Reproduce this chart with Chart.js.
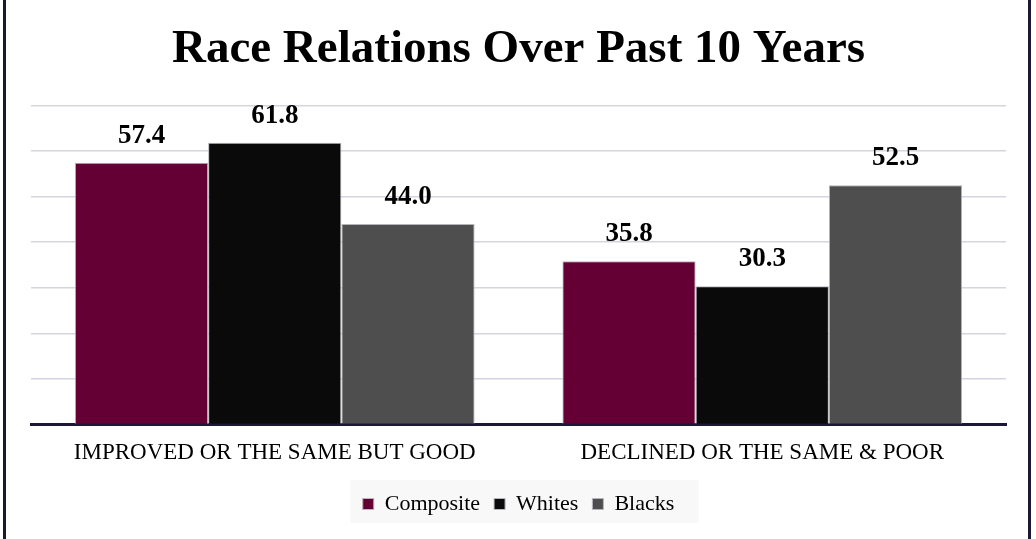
<!DOCTYPE html>
<html>
<head>
<meta charset="utf-8">
<script src="https://cdn.jsdelivr.net/npm/chart.js@4/dist/chart.umd.min.js"></script>
<style>
    html, body { margin: 0; padding: 0; background: #fff; }
    #wrap {
        position: absolute; left: 3px; top: 0; width: 1028px; height: 539px;
        border-left: 3px solid #1c1733; border-right: 3px solid #1c1733;
        box-sizing: border-box;
    }
    #chart { display: block; }
</style>
</head>
<body>
<div id="wrap"><canvas id="chart" width="1022" height="539"></canvas></div>
<script>
const categories = ['IMPROVED OR THE SAME BUT GOOD', 'DECLINED OR THE SAME & POOR'];
const composite = [57.4, 35.8];
const whites = [61.8, 30.3];
const blacks = [44.0, 52.5];

const SERIF = '"Liberation Serif", "DejaVu Serif", serif';

// подписи значений над столбцами
const valueLabels = {
    id: 'valueLabels',
    afterDatasetsDraw(chart) {
        const ctx = chart.ctx;
        ctx.save();
        ctx.font = 'bold 27px ' + SERIF;
        ctx.fillStyle = '#000';
        ctx.textAlign = 'center';
        ctx.textBaseline = 'alphabetic';
        chart.data.datasets.forEach((ds, i) => {
            chart.getDatasetMeta(i).data.forEach((bar, j) => {
                ctx.fillText(ds.data[j].toFixed(1), bar.x, bar.y - 20);
            });
        });
        ctx.restore();
    }
};

// светлая подложка под легендой
const legendBg = {
    id: 'legendBg',
    beforeDraw(chart) {
        const lg = chart.legend;
        if (!lg) return;
        const ctx = chart.ctx;
        ctx.save();
        ctx.fillStyle = '#f8f8f8';
        ctx.fillRect(lg.left + (lg.width - 348) / 2 + 6, lg.top + 1, 348, 43);
        ctx.restore();
    }
};

new Chart(document.getElementById('chart'), {
    type: 'bar',
    data: {
        labels: categories,
        datasets: [
            { label: 'Composite', data: composite, backgroundColor: '#640033', borderColor: '#b8b4bc', borderWidth: 1 },
            { label: 'Whites', data: whites, backgroundColor: '#0a0a0a', borderColor: '#b8b4bc', borderWidth: 1 },
            { label: 'Blacks', data: blacks, backgroundColor: '#4e4e4e', borderColor: '#b8b4bc', borderWidth: 1 }
        ]
    },
    options: {
        responsive: false,
        animation: false,
        layout: { padding: { left: 25, right: 22, top: 0, bottom: 14 } },
        datasets: { bar: { categoryPercentage: 0.82, barPercentage: 1.0 } },
        plugins: {
            title: {
                display: true,
                text: 'Race Relations Over Past 10 Years',
                color: '#000',
                font: { family: SERIF, size: 47, weight: 'bold' },
                padding: { top: 22, bottom: 27 }
            },
            legend: {
                position: 'bottom',
                labels: {
                    color: '#000',
                    font: { family: SERIF, size: 22 },
                    boxWidth: 11,
                    boxHeight: 11,
                    padding: 14
                }
            },
            tooltip: { enabled: false }
        },
        scales: {
            x: {
                grid: { display: false },
                border: { color: '#1c1733', width: 3 },
                ticks: { color: '#000', font: { family: SERIF, size: 23 }, padding: 7 },
                afterFit(scale) { scale.height += 5; }
            },
            y: {
                min: 0,
                max: 70,
                ticks: { display: false, stepSize: 10 },
                grid: { color: '#d6d4de', lineWidth: 1.5, drawTicks: false },
                border: { display: false }
            }
        }
    },
    plugins: [valueLabels, legendBg]
});
</script>
</body>
</html>
